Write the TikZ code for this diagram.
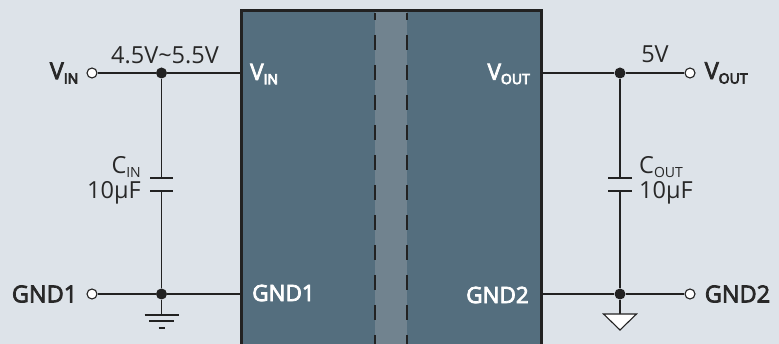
\documentclass[tikz,border=0pt]{standalone}
\usepackage{fontspec}
\setmainfont{Open Sans}
\usetikzlibrary{positioning}
\definecolor{bgcol}{RGB}{221,227,233}
\definecolor{chipcol}{RGB}{84,110,126}
\definecolor{gapcol}{RGB}{113,131,143}
\definecolor{wirecol}{RGB}{34,34,34}
\definecolor{txtcol}{RGB}{40,40,40}
% heavier strokes for the pin names (no semibold face installed)
\newcommand{\heavy}[1]{\special{pdf:literal direct 2 Tr 0.75 w}#1\special{pdf:literal direct 0 Tr}}
\newcommand{\lowtxt}[1]{\raisebox{-0.35ex}{\fontsize{14}{14}\selectfont #1}}
\tikzset{x=1pt, y=-1pt, % one unit is one pixel of the picture, y runs down
    wire/.style={draw=wirecol, line width=1.3pt}, % connections between parts
    junction/.style={circle, fill=wirecol, inner sep=0pt, minimum size=11pt},
    terminal/.style={circle, draw=wirecol, fill=white, line width=1.1pt, inner sep=0pt, minimum size=10pt},
    lbl/.style={text=txtcol, inner sep=0pt, font=\fontsize{23.5}{25}\selectfont},
    pinlbl/.style={text=white, inner sep=0pt, font=\fontsize{22.5}{25}\selectfont},
    plate/.style={draw=wirecol, line width=1.3pt},
    earth/.style={draw=wirecol, line width=1.1pt}
}
\begin{document}
\begin{tikzpicture}
    \useasboundingbox[fill=bgcol] (0,0) rectangle (779,344);
    % isolator body
    \fill[chipcol] (241,11) rectangle (541,360);
    \fill[gapcol] (375,11) rectangle (407,360);
    \draw[wirecol, line width=1.4pt, dash pattern=on 15pt off 15pt, dash phase=8pt]
        (375,13) -- (375,344) (407,13) -- (407,344);
    \draw[wirecol, line width=3pt] (241,360) -- (241,11) -- (541,11) -- (541,360);

    % pins on the body
    \coordinate (cvin) at (241,73);
    \coordinate (cgnd1) at (241,294);
    \coordinate (cvout) at (541,73);
    \coordinate (cgnd2) at (541,294);
    \node[pinlbl, anchor=west] (tvin) at (250,74) {\heavy{V\lowtxt{IN}}};
    \node[pinlbl, anchor=west] (tgnd1) at (252,293) {\heavy{GND1}};
    \node[pinlbl, anchor=east] (tvout) at (530,74) {\heavy{V\lowtxt{OUT}}};
    \node[pinlbl, anchor=east] (tgnd2) at (529,295) {\heavy{GND2}};

    % input side
    \node[terminal] (pvin) at (92,73) {};
    \node[terminal] (pgnd1) at (92,294) {};
    \node[junction] (jvin) at (161.5,73) {};
    \node[junction] (jgnd1) at (161.5,294) {};
    \node[lbl, left=8pt of pvin] (lvin) {\heavy{V\lowtxt{IN}}};
    \node[lbl, left=9pt of pgnd1] (lgnd1) {\heavy{GND1}};
    \node[lbl] (range) at (165,55) {4.5V\textasciitilde5.5V};
    \coordinate (cinA) at (161.5,178);
    \coordinate (cinB) at (161.5,191);
    \node[lbl, anchor=east, align=right] (lcin) at (141,180) {C\lowtxt{IN}\\10µF};

    % output side
    \node[terminal] (pvout) at (690,73) {};
    \node[terminal] (pgnd2) at (690,294) {};
    \node[junction] (jvout) at (620,73) {};
    \node[junction] (jgnd2) at (620,294) {};
    \node[lbl, right=9pt of pvout] (lvout) {\heavy{V\lowtxt{OUT}}};
    \node[lbl, right=9pt of pgnd2] (lgnd2) {\heavy{GND2}};
    \node[lbl] (five) at (655,54) {5V};
    \coordinate (coutA) at (620,178);
    \coordinate (coutB) at (620,191);
    \node[lbl, anchor=west, align=left] (lcout) at (639,180) {C\lowtxt{OUT}\\10µF};

    % wiring
    \draw[wire] (pvin) -- (jvin) -- (cvin)
                (pgnd1) -- (jgnd1) -- (cgnd1)
                (cvout) -- (jvout) -- (pvout)
                (cgnd2) -- (jgnd2) -- (pgnd2)
                (jvin) -- (cinA) (cinB) -- (jgnd1)
                (jvout) -- (coutA) (coutB) -- (jgnd2);
    \draw[plate] ([xshift=-11.5pt]cinA) -- ([xshift=11.5pt]cinA)
                 ([xshift=-11.5pt]cinB) -- ([xshift=11.5pt]cinB)
                 ([xshift=-12pt]coutA) -- ([xshift=12pt]coutA)
                 ([xshift=-12pt]coutB) -- ([xshift=12pt]coutB);

    % grounds
    \coordinate (eL) at (161.5,315);
    \coordinate (eR) at (620,314);
    \draw[wire] (jgnd1) -- (eL) (jgnd2) -- (eR);
    \draw[earth] ([xshift=-17pt]eL) -- ([xshift=17pt]eL)
                 ([xshift=-12.5pt,yshift=-6pt]eL) -- ([xshift=12.5pt,yshift=-6pt]eL)
                 ([xshift=-3pt,yshift=-13pt]eL) -- ([xshift=3pt,yshift=-13pt]eL);
    \draw[earth, fill=white, line join=miter] ([xshift=-16.5pt]eR) -- ([xshift=16.5pt]eR)
                 -- ([yshift=-16pt]eR) -- cycle;
\end{tikzpicture}
\end{document}
